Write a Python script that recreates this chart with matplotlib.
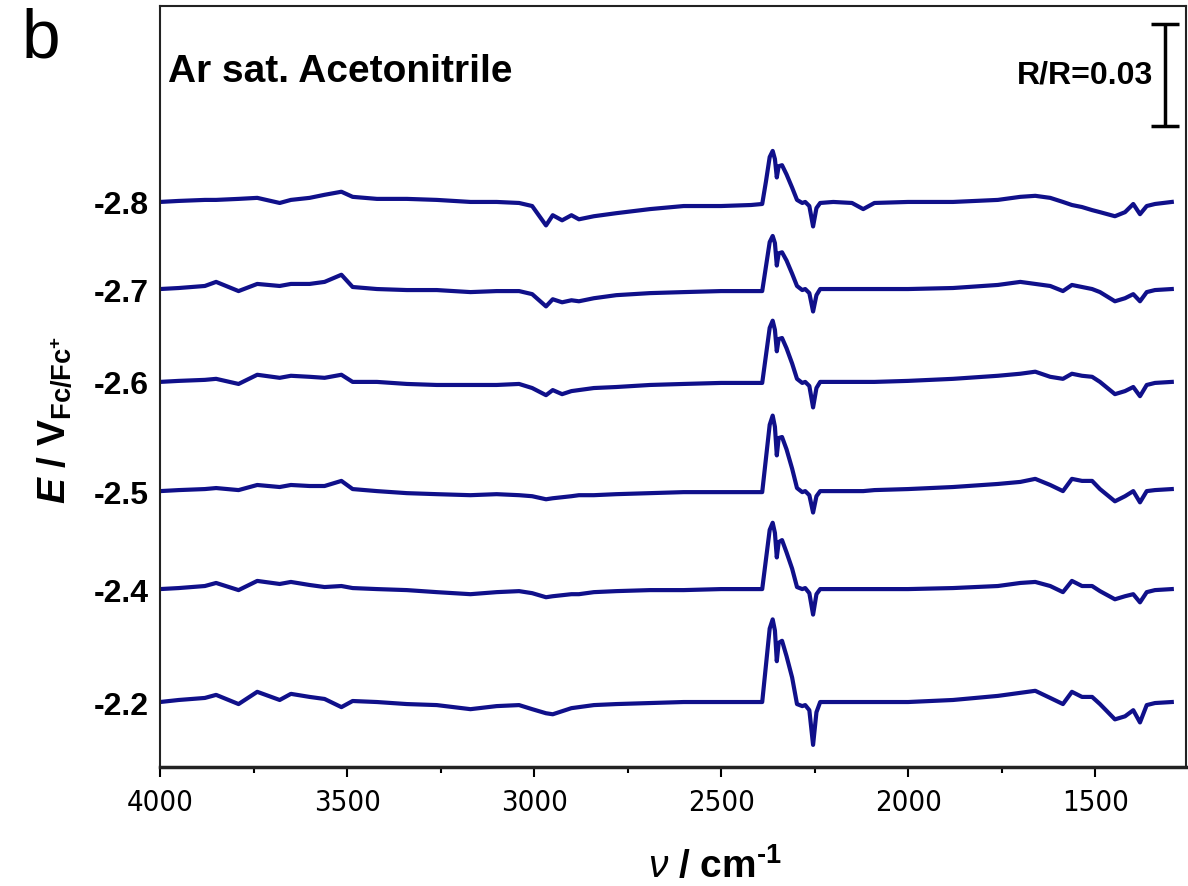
import matplotlib
matplotlib.use('Agg')
import matplotlib.pyplot as plt
from matplotlib import font_manager as fm
from matplotlib.ticker import MultipleLocator

plt.rcParams['font.family'] = ['Liberation Sans', 'DejaVu Sans']
plt.rcParams['mathtext.fontset'] = 'custom'
plt.rcParams['mathtext.rm'] = 'Liberation Sans:bold'
plt.rcParams['mathtext.bf'] = 'Liberation Sans:bold'
plt.rcParams['mathtext.it'] = 'Liberation Sans:bold:italic'
plt.rcParams['mathtext.sf'] = 'Liberation Sans:italic'

# wavenumber grid (cm-1) shared by all traces
wavenumber = [4000, 3950, 3880, 3850, 3790, 3740, 3680, 3650, 3600, 3560,
              3515, 3485, 3420, 3340, 3260, 3170, 3100, 3040, 3005, 2968,
              2950, 2925, 2900, 2880, 2840, 2780, 2690, 2600, 2500, 2420,
              2390, 2380, 2370, 2362, 2356, 2351, 2346, 2337, 2325, 2310,
              2297, 2283, 2275, 2264, 2254, 2245, 2235, 2200, 2150, 2120,
              2090, 2000, 1880, 1760, 1700, 1660, 1620, 1586, 1562, 1535,
              1508, 1487, 1447, 1420, 1398, 1380, 1362, 1340, 1295]

# dR/R (x 10^-3) for each potential
trace_m28 = [0, 0.3, 0.6, 0.6, 0.9, 1.2, -0.3, 0.6, 1.2, 2.1,
             3.0, 1.5, 0.9, 0.9, 0.6, 0, 0, -0.3, -1.2, -6.9,
             -3.9, -5.4, -3.9, -5.1, -4.2, -3.3, -2.1, -1.2, -1.2, -0.9,
             -0.6, 6.0, 13.2, 15.0, 12.6, 7.2, 10.5, 10.8, 8.1, 4.2,
             0.6, -0.3, 0, -1.2, -7.2, -1.8, -0.3, 0, -0.3, -2.1,
             -0.3, 0, 0, 0.6, 1.5, 1.8, 1.2, 0, -0.9, -1.5,
             -2.4, -3.0, -4.2, -3.0, -0.6, -3.6, -1.2, -0.6, 0]
trace_m27 = [0, 0.3, 0.9, 2.1, -0.6, 1.5, 0.9, 1.5, 1.5, 2.1,
             4.2, 0.6, 0, -0.3, -0.3, -0.9, -0.6, -0.6, -1.5, -5.1,
             -3.0, -3.9, -3.3, -3.6, -2.7, -1.8, -1.2, -0.9, -0.6, -0.6,
             -0.6, 6.6, 13.8, 15.6, 13.5, 6.9, 10.5, 10.8, 8.4, 4.5,
             0.9, -0.3, 0, -1.2, -6.6, -1.8, 0, 0, 0, 0,
             0, 0, 0.3, 1.2, 2.1, 1.5, 0.9, -0.6, 1.2, 0.6,
             0, -0.9, -3.6, -2.7, -1.5, -3.6, -0.9, -0.3, 0]
trace_m26 = [0, 0.3, 0.6, 0.9, -0.6, 2.1, 1.2, 1.8, 1.5, 1.2,
             2.1, 0, 0, -0.6, -0.9, -0.9, -0.9, -0.6, -1.8, -3.9,
             -2.4, -3.6, -2.7, -2.4, -1.8, -1.5, -0.9, -0.6, -0.3, -0.3,
             -0.3, 7.8, 15.9, 18.0, 15.3, 9.0, 12.6, 12.9, 9.9, 5.4,
             0.9, -0.3, 0, -1.2, -7.5, -1.8, 0, 0, 0, 0,
             0, 0.3, 0.9, 1.8, 2.4, 3.0, 1.5, 0.9, 2.4, 1.8,
             1.5, 0, -3.6, -2.7, -1.5, -4.2, -0.9, -0.3, 0]
trace_m25 = [0, 0.3, 0.6, 0.9, 0.3, 1.8, 1.2, 1.8, 1.5, 1.5,
             3.0, 0.6, 0, -0.6, -0.9, -1.2, -0.9, -1.2, -1.5, -2.4,
             -2.1, -1.8, -1.5, -1.2, -1.2, -0.9, -0.6, -0.3, -0.3, -0.3,
             -0.3, 9.6, 19.5, 22.2, 18.9, 10.5, 15.6, 15.9, 12.3, 6.6,
             0.9, -0.3, 0, -1.2, -6.3, -1.5, 0, 0, 0, 0,
             0.3, 0.6, 1.2, 2.1, 2.7, 3.6, 1.8, 0, 3.6, 3.0,
             3.0, 0.6, -3.0, -1.5, 0, -3.3, 0, 0.3, 0.6]
trace_m24 = [0, 0.3, 0.9, 1.8, -0.3, 2.4, 1.5, 2.1, 1.2, 0.6,
             0.9, 0.3, 0, -0.3, -0.9, -1.5, -0.9, -0.6, -1.2, -2.4,
             -2.1, -1.8, -1.5, -1.5, -0.9, -0.6, -0.3, -0.3, 0, 0,
             0, 8.7, 17.4, 19.5, 16.5, 9.3, 13.8, 14.4, 10.8, 6.0,
             0.6, 0, 0.3, -1.2, -7.5, -1.5, 0, 0, 0, 0,
             0, 0, 0.3, 0.9, 1.8, 2.1, 0.9, -0.9, 2.4, 0.9,
             0.9, -0.6, -3.0, -2.1, -1.5, -3.9, -0.9, -0.3, 0]
trace_m22 = [0, 0.6, 1.2, 2.1, -0.6, 3.0, 0.6, 2.4, 1.5, 0.9,
             -1.5, 0.3, 0, -0.6, -0.9, -2.1, -1.2, -0.9, -2.1, -3.3,
             -3.6, -2.7, -1.8, -1.5, -0.9, -0.6, -0.3, 0, 0, 0,
             0, 10.8, 21.6, 24.3, 21.0, 12.0, 17.4, 18.0, 13.5, 7.2,
             -0.6, -1.2, -0.9, -2.4, -12.6, -3.0, 0, 0, 0, 0,
             0, 0, 0.6, 1.8, 2.7, 3.3, 1.2, -0.6, 3.0, 1.5,
             1.5, -0.6, -5.1, -4.2, -2.4, -6.0, -0.9, -0.3, 0]

potential_labels = ['-2.2', '-2.4', '-2.5', '-2.6', '-2.7', '-2.8']
traces = [trace_m22, trace_m24, trace_m25, trace_m26, trace_m27, trace_m28]
# vertical offset of each trace (x 10^-3)
offsets = [19.1, 52.3, 81.1, 113.2, 140.5, 166.1]

line_color = '#10108a'


def narrow_font():
    """Look for an installed condensed sans font for the x tick labels."""
    found = []
    for f in fm.fontManager.ttflist:
        name = f.name.lower()
        cond = ('narrow' in name or 'condensed' in name
                or f.stretch in ('condensed', 'semi-condensed'))
        if cond and f.style == 'normal' and f.weight in (400, 'normal', 'regular'):
            rank = 0 if 'liberation' in name or 'arial' in name else 1
            found.append((rank, f.fname))
    if not found:
        return None
    found.sort()
    return fm.FontProperties(fname=found[0][1])


fig = plt.figure(figsize=(11.88, 8.87), dpi=100)
ax = fig.add_axes([160 / 1188, 1 - 768 / 887, 1026 / 1188, 761 / 887])

for tr, off in zip(traces, offsets):
    ax.plot(wavenumber, [v + off for v in tr], color=line_color, lw=3.0,
            solid_joinstyle='round')

ax.set_xlim(4000, 1257)
ax.set_ylim(0, 223.7)

ax.set_yticks(offsets)
ax.set_yticklabels(potential_labels)
ax.tick_params(axis='y', length=0, pad=8, labelsize=23)
for lbl in ax.get_yticklabels():
    lbl.set_fontweight('bold')

ax.xaxis.set_major_locator(MultipleLocator(500))
ax.xaxis.set_minor_locator(MultipleLocator(250))
ax.tick_params(axis='x', which='major', direction='out', length=7, width=1.5,
               labelsize=20, pad=8)
ax.tick_params(axis='x', which='minor', direction='out', length=4.5, width=1.5)

nf = narrow_font()
if nf is not None:
    for lbl in ax.get_xticklabels():
        lbl.set_fontproperties(nf)
        lbl.set_fontsize(21)

for sp in ax.spines.values():
    sp.set_linewidth(1.5)
    sp.set_color('#222222')
ax.spines['bottom'].set_linewidth(2.5)

ax.set_xlabel('$\\mathsf{\\nu}$ / cm$^{\\mathit{\u20101}}$', fontsize=28,
              fontweight='bold')
ax.xaxis.set_label_coords(0.541, -0.104)
ax.set_ylabel(r'$E$ / V$_{\mathbf{Fc/Fc^{+}}}$', fontsize=28,
              fontweight='bold')
ax.yaxis.set_label_coords(-0.083, 0.457)

# panel letter and condition label
fig.text(22 / 1188, 1 - 8 / 887, 'b', fontsize=50, va='top', ha='left')
ax.text(0.008, 0.915, 'Ar sat. Acetonitrile', transform=ax.transAxes,
        fontsize=28, fontweight='bold', va='center', ha='left')

# scale bar dR/R = 0.03 (30 x 10^-3)
bar_x = 1313
ax.errorbar([bar_x], [203.5], yerr=[15], color='black', elinewidth=2.5,
            capsize=10, capthick=2.5)
ax.text(1345, 203.5, 'R/R=0.03', fontsize=23, fontweight='bold',
        ha='right', va='center')

fig.savefig('out.png', dpi=100)
